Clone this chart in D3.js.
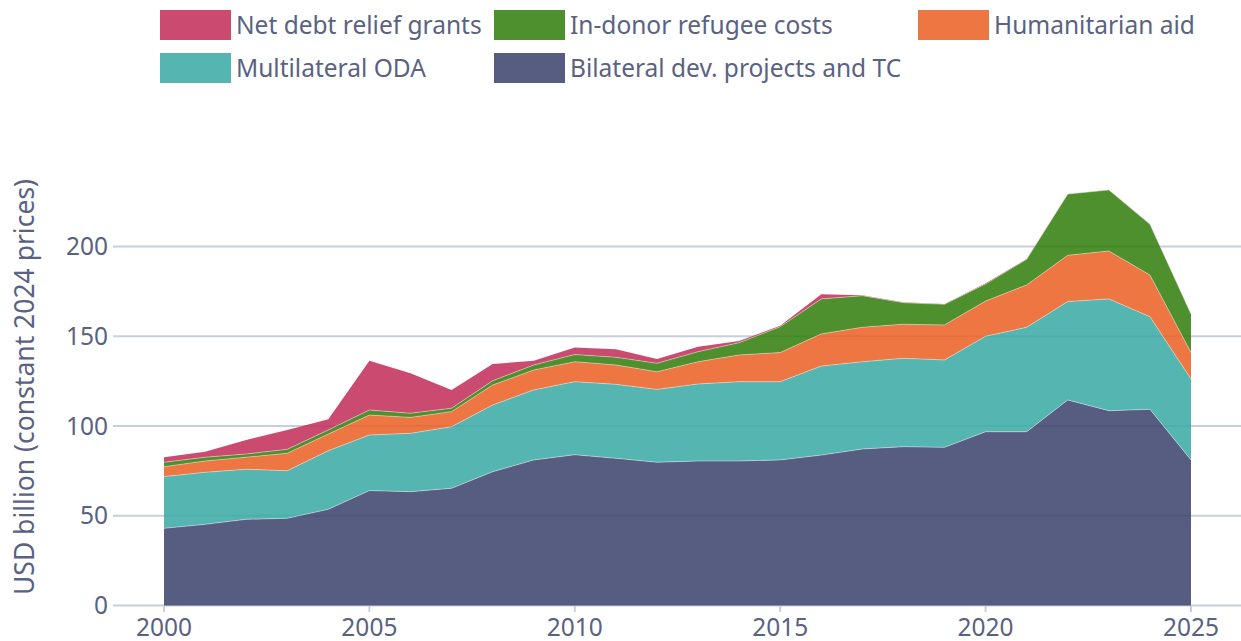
<!DOCTYPE html>
<html>
<head>
<meta charset="utf-8">
<script src="https://cdn.jsdelivr.net/npm/d3@7"></script>
<style>
  body { margin: 0; background: #fff; }
  text { font-family: "Noto Sans", sans-serif; fill: #5a6282; }
</style>
</head>
<body>
<script>
// ODA by component, USD billion (constant 2024 prices)
var years = d3.range(2000, 2026);

var bilateral    = [43.0, 45.2, 48.0, 48.6, 53.6, 64.0, 63.4, 65.3, 74.5, 81.1, 84.0, 82.0, 79.8, 80.5, 80.5, 81.1, 83.8, 87.2, 88.5, 88.1, 96.8, 96.8, 114.5, 108.5, 109.3, 81.1];
var multilateral = [28.8, 29.0, 27.9, 26.5, 32.6, 31.0, 32.5, 34.3, 37.2, 39.0, 40.7, 41.2, 40.6, 42.9, 44.2, 43.6, 49.6, 48.6, 49.2, 48.7, 53.2, 58.2, 54.8, 62.3, 51.6, 45.1];
var humanitarian = [5.5, 6.3, 6.7, 9.7, 9.3, 11.1, 8.9, 8.4, 11.1, 11.1, 11.1, 10.8, 9.8, 12.4, 14.9, 16.2, 17.9, 19.2, 19.0, 19.5, 19.6, 23.6, 25.8, 26.7, 23.2, 14.7];
var refugee      = [2.5, 2.1, 1.8, 2.2, 2.3, 2.8, 2.3, 1.9, 2.4, 2.8, 4.0, 4.3, 4.7, 5.6, 6.8, 14.4, 19.5, 17.6, 12.0, 11.5, 9.5, 14.3, 34.1, 34.0, 28.3, 21.5];
var debtRelief   = [2.8, 3.1, 7.8, 10.8, 5.9, 27.5, 22.3, 10.2, 9.3, 2.4, 4.0, 4.4, 2.4, 2.8, 1.0, 0.5, 2.6, 0.3, 0.2, 0.1, 0.4, 0.2, 0.1, 0.1, 0.1, 0.0];

var seriesKeys   = ['bilateral', 'multilateral', 'humanitarian', 'refugee', 'debt'];
var seriesNames  = ['Bilateral dev. projects and TC', 'Multilateral ODA', 'Humanitarian aid', 'In-donor refugee costs', 'Net debt relief grants'];
var seriesColors = ['#39416a', '#37a8a2', '#eb5e22', '#2f7d08', '#c22b57'];

var yTicks = [0, 50, 100, 150, 200];
var xTicks = [2000, 2005, 2010, 2015, 2020, 2025];

var rows = years.map(function(yr, i){
	return {
		year: yr,
		bilateral: bilateral[i],
		multilateral: multilateral[i],
		humanitarian: humanitarian[i],
		refugee: refugee[i],
		debt: debtRelief[i]
	};
});

var width = 1241, height = 641;
var plot = { left: 113, right: 1241, top: 110, bottom: 606 };

var svg = d3.select('body').append('svg')
	.attr('width', width)
	.attr('height', height);

var x = d3.scaleLinear().domain([2000, 2025]).range([164, 1191]);
var y = d3.scaleLinear().domain([0, 200]).range([605.5, 246.5]);

// gridlines
var grid = svg.append('g').attr('id', 'grid-layer');
grid.selectAll('line')
	.data(yTicks)
	.enter().append('line')
	.attr('x1', plot.left)
	.attr('x2', plot.right)
	.attr('y1', function(d){ return y(d); })
	.attr('y2', function(d){ return y(d); })
	.attr('stroke', '#c8cfdc')
	.attr('stroke-width', 2);

// stacked areas
var stack = d3.stack().keys(seriesKeys);
var layers = stack(rows);

var area = d3.area()
	.x(function(d){ return x(d.data.year); })
	.y0(function(d){ return y(d[0]); })
	.y1(function(d){ return y(d[1]); });

var topLine = d3.line()
	.x(function(d){ return x(d.data.year); })
	.y(function(d){ return y(d[1]); });

var main = svg.append('g').attr('id', 'main-layer');
main.selectAll('path.area')
	.data(layers)
	.enter().append('path')
	.attr('class', 'area')
	.attr('d', area)
	.attr('fill', function(d, i){ return seriesColors[i]; })
	.attr('fill-opacity', 0.85);

main.selectAll('path.edge')
	.data(layers.slice(0, 4))
	.enter().append('path')
	.attr('class', 'edge')
	.attr('d', topLine)
	.attr('fill', 'none')
	.attr('stroke', '#fff')
	.attr('stroke-opacity', 0.5)
	.attr('stroke-width', 0.8);

// y axis labels
var yAxis = svg.append('g').attr('id', 'y-axis');
yAxis.selectAll('text')
	.data(yTicks)
	.enter().append('text')
	.attr('x', 108)
	.attr('y', function(d){ return y(d); })
	.attr('dy', '0.35em')
	.attr('text-anchor', 'end')
	.style('font-size', '24.5px')
	.text(function(d){ return d; });

svg.append('text')
	.attr('transform', 'translate(34,' + 387 + ') rotate(-90)')
	.attr('text-anchor', 'middle')
	.style('font-size', '26.5px')
	.text('USD billion (constant 2024 prices)');

// x axis ticks and labels
var xAxis = svg.append('g').attr('id', 'x-axis');
xAxis.selectAll('line')
	.data(xTicks)
	.enter().append('line')
	.attr('x1', function(d){ return x(d); })
	.attr('x2', function(d){ return x(d); })
	.attr('y1', 606)
	.attr('y2', 612)
	.attr('stroke', '#c8cfdc')
	.attr('stroke-width', 2);
xAxis.selectAll('text')
	.data(xTicks)
	.enter().append('text')
	.attr('x', function(d){ return x(d); })
	.attr('y', 636)
	.attr('text-anchor', 'middle')
	.style('font-size', '24.5px')
	.text(function(d){ return d; });

// legend
var legendOrder = [4, 3, 2, 1, 0];
var legendPos = [[160, 10], [494, 10], [918, 10], [160, 53], [494, 53]];
var legend = svg.append('g').attr('id', 'legend');
var items = legend.selectAll('g')
	.data(legendOrder)
	.enter().append('g')
	.attr('transform', function(d, i){ return 'translate(' + legendPos[i][0] + ',' + legendPos[i][1] + ')'; });
items.append('rect')
	.attr('width', 71)
	.attr('height', 30)
	.attr('fill', function(d){ return seriesColors[d]; })
	.attr('fill-opacity', 0.85);
items.append('text')
	.attr('x', 76)
	.attr('y', 15)
	.attr('dy', '0.35em')
	.style('font-size', '24.5px')
	.text(function(d){ return seriesNames[d]; });
</script>
</body>
</html>
